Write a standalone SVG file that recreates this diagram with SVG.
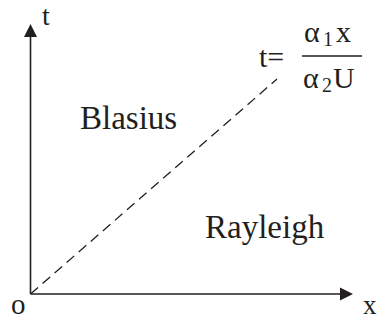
<svg xmlns="http://www.w3.org/2000/svg" width="379" height="320" viewBox="0 0 379 320">
<style>
text{font-family:"Liberation Serif","Times New Roman",serif;fill:#231f20}
.ax{stroke:#231f20;stroke-width:1.6;fill:none}
.dash{stroke:#231f20;stroke-width:1.3;stroke-dasharray:10 6;fill:none}
</style>
<rect width="379" height="320" fill="#fff"/>
<g id="connectors">
<line class="ax" x1="30.5" y1="294" x2="30.5" y2="34"/>
<polygon points="30.5,24 24,37 37,37" fill="#231f20"/>
<line class="ax" x1="30.5" y1="294" x2="343" y2="294"/>
<polygon points="353,294 340,287.5 340,300.5" fill="#231f20"/>
<line class="dash" x1="30.5" y1="294" x2="277" y2="79"/>
</g>
<g id="axis-labels">
<text x="42" y="25" font-size="28">t</text>
<text x="11" y="314" font-size="29">o</text>
<text x="363" y="314" font-size="27">x</text>
</g>
<g id="regions">
<text x="80" y="129" font-size="33">Blasius</text>
<text x="205" y="238" font-size="33">Rayleigh</text>
</g>
<g id="boundary-label">
<text x="259" y="67" font-size="30">t=</text>
<line x1="302" y1="56" x2="362" y2="56" stroke="#231f20" stroke-width="1.4"/>
<text x="304" y="42" font-size="30">α</text>
<text x="323" y="46" font-size="20">1</text>
<text x="336" y="42" font-size="30">x</text>
<text x="303" y="88" font-size="30">α</text>
<text x="322" y="92" font-size="20">2</text>
<text x="333" y="88" font-size="30">U</text>
</g>
</svg>
